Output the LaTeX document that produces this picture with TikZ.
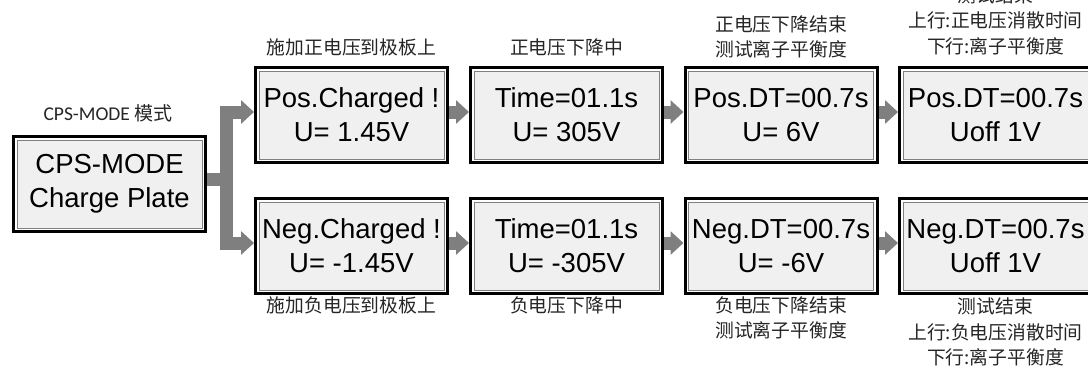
\documentclass[tikz,border=0pt]{standalone}
\usepackage{fontspec}
\setmainfont{Liberation Sans}
\newfontfamily\cjk{Noto Sans CJK SC}
\newfontfamily\calfont{Carlito}
\usetikzlibrary{arrows.meta,calc}
\definecolor{boxfill}{HTML}{F0F0F0}
\definecolor{arrowgray}{HTML}{7F7F7F}
\definecolor{innerline}{HTML}{808080}
\definecolor{labelc}{HTML}{262626}
\begin{document}
\begin{tikzpicture}[x=1pt,y=-1pt,
  lcd/.style={draw=black, line width=3pt, fill=white, minimum width=192pt, minimum height=95pt,
    inner sep=0pt, align=center, font=\fontsize{27.5}{34}\selectfont,
    path picture={\draw[innerline, line width=1pt, fill=boxfill]
      ([shift={(3.5pt,-3.5pt)}]path picture bounding box.north west) rectangle
      ([shift={(-3.5pt,3.5pt)}]path picture bounding box.south east);}},
  lbl/.style={font=\cjk\fontsize{18.8}{25.5}\selectfont, text=labelc, align=center, inner sep=0pt},
  flow/.style={draw=arrowgray, line width=13pt, line join=miter, -{Triangle[width=23pt,length=13pt]}},
  stub/.style={draw=arrowgray, line width=13pt, line join=miter}
]
\clip (0,0) rectangle (1088,373);
\fill[white] (0,0) rectangle (1088,373);

% boxes
\node[lcd] (L)  at (109.5,184) {CPS-MODE\\Charge Plate};
\node[lcd] (p1) at (351.5,115) {Pos.Charged !\\U= 1.45V};
\node[lcd] (p2) at (566.5,115) {Time=01.1s\\U= 305V};
\node[lcd] (p3) at (781,115)   {Pos.DT=00.7s\\U= 6V};
\node[lcd] (p4) at (995.5,115) {Pos.DT=00.7s\\Uoff 1V};
\node[lcd] (n1) at (351.5,246) {Neg.Charged !\\U= -1.45V};
\node[lcd] (n2) at (566.5,246) {Time=01.1s\\U= -305V};
\node[lcd] (n3) at (781,246)   {Neg.DT=00.7s\\U= -6V};
\node[lcd] (n4) at (995.5,246) {Neg.DT=00.7s\\Uoff 1V};

% labels
\node[inner sep=0pt, text=labelc] (Lt) at (108,113)
  {{\calfont\fontsize{19.5}{21}\selectfont CPS-MODE }{\cjk\fontsize{19}{21}\selectfont 模式}};
\node[lbl] (tp1) at (351.5,47) {施加正电压到极板上};
\node[lbl] (tp2) at (566.5,47) {正电压下降中};
\node[lbl] (tp3) at (781,37) {正电压下降结束\\测试离子平衡度};
\node[lbl] (tp4) at (995.5,20.5) {测试结束\\上行:正电压消散时间\\下行:离子平衡度};
\node[lbl] (bn1) at (351.5,305) {施加负电压到极板上};
\node[lbl] (bn2) at (566.5,305) {负电压下降中};
\node[lbl] (bn3) at (781,318) {负电压下降结束\\测试离子平衡度};
\node[lbl] (bn4) at (995.5,332) {测试结束\\上行:负电压消散时间\\下行:离子平衡度};

% branch arrows
\coordinate (s) at ([yshift=5pt]L.east);
\coordinate (j) at (226,179);
\draw[stub] (s) -- (j);
\draw[flow] (s) -- (j) |- ([yshift=3pt]p1.west);
\draw[flow] (j) |- ([yshift=3pt]n1.west);

% row arrows
\draw[flow] ([yshift=3pt]p1.east) -- ([yshift=3pt]p2.west);
\draw[flow] ([yshift=3pt]p2.east) -- ([yshift=3pt]p3.west);
\draw[flow] ([yshift=3pt]p3.east) -- ([yshift=3pt]p4.west);
\draw[flow] ([yshift=3pt]n1.east) -- ([yshift=3pt]n2.west);
\draw[flow] ([yshift=3pt]n2.east) -- ([yshift=3pt]n3.west);
\draw[flow] ([yshift=3pt]n3.east) -- ([yshift=3pt]n4.west);
\end{tikzpicture}
\end{document}
